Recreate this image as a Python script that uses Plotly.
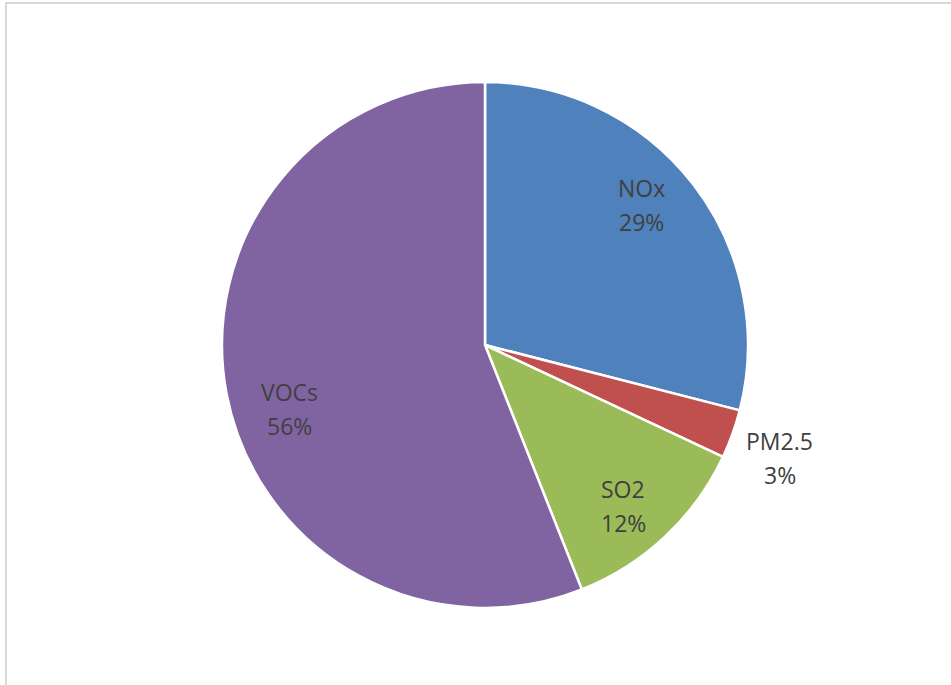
import math
import plotly.graph_objects as go

labels = ["NOx", "PM2.5", "SO2", "VOCs"]
values = [29, 3, 12, 56]
colors = ["#4F81BD", "#C0504D", "#9BBB59", "#8064A2"]
label_radius = [0.79, 1.2, 0.79, 0.78]  # fraction of pie radius where each label sits
label_nudge = [(-8, -13), (-2, 6), (-4, 10), (6, 26)]  # pixel nudges (dx, dy down)

W, H = 951, 685
cx, cy, r = 485, 345, 263
FONT = "Open Sans, Liberation Sans, sans-serif"

fig = go.Figure(go.Pie(
    labels=labels,
    values=values,
    sort=False,
    direction="clockwise",
    rotation=0,
    marker=dict(colors=colors, line=dict(color="white", width=2.5)),
    textinfo="none",
    showlegend=False,
    domain=dict(x=[(cx - r) / W, (cx + r) / W], y=[(H - cy - r) / H, (H - cy + r) / H]),
    hoverinfo="label+percent",
))

total = sum(values)
annotations = []
cum = 0.0
for lab, v, lr, (ndx, ndy) in zip(labels, values, label_radius, label_nudge):
    mid = (cum + v / 2) / total * 2 * math.pi
    cum += v
    px = cx + lr * r * math.sin(mid) + ndx
    py = cy - lr * r * math.cos(mid) + ndy
    for txt, shift in ((lab, 17), (f"{round(v / total * 100)}%", -17)):
        annotations.append(dict(
            x=px / W, y=1 - py / H, xref="paper", yref="paper",
            text=txt, showarrow=False, yshift=shift,
            xanchor="center", yanchor="middle",
            font=dict(family=FONT, size=23, color="#404040"),
        ))

fig.update_layout(
    width=W, height=H,
    margin=dict(l=0, r=0, t=0, b=0),
    paper_bgcolor="white",
    plot_bgcolor="white",
    annotations=annotations,
    shapes=[dict(type="rect", xref="paper", yref="paper", x0=6 / W, x1=1.01, y0=-0.01, y1=1 - 3 / H,
                 line=dict(color="#D9D9D9", width=2), fillcolor="rgba(0,0,0,0)")],
)

fig.write_html("out.html", config={"displayModeBar": False},
               post_script="document.body.style.margin='0';document.body.style.overflow='hidden';")
